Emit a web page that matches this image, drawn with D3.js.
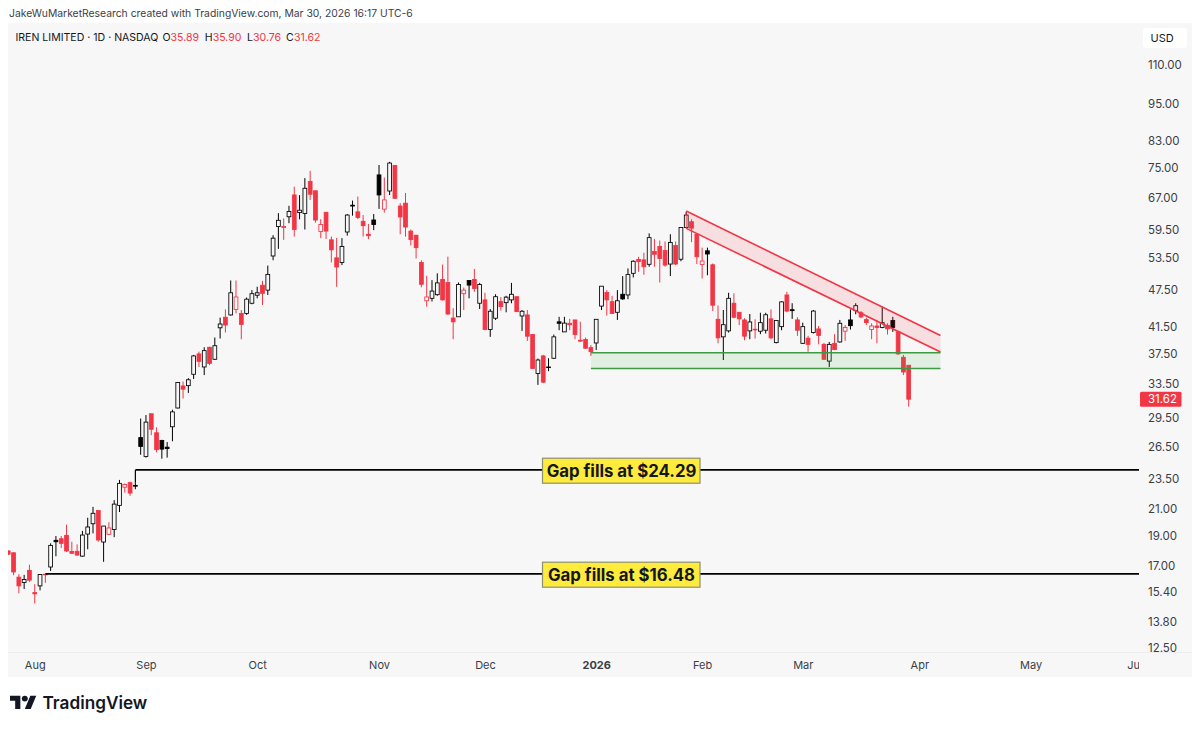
<!DOCTYPE html>
<html>

<head>
    <title>IREN LIMITED 1D</title>
    <script src="https://d3js.org/d3.v7.min.js"></script>
    <style>
        body {
            margin: 0;
            background-color: #ffffff;
        }

        svg {
            display: block;
            font-family: Inter, 'Noto Sans', sans-serif;
        }
    </style>
</head>

<body>
    <div id="chart"></div>

    <script>
        // Daily candles, first bar is 25 Jul 2025, last bar is 30 Mar 2026
        const opens = [
            17.95, 17.83, 16.28, 15.96, 16.7, 15.37, 15.76, 16.46, 16.91, 18.68,
            18.79, 19.03, 17.92, 17.93, 17.61, 19.12, 19.87, 20.88, 18.56, 19.1,
            19.45, 21.28, 22.77, 23.16, 22.93, 27.4, 25.53, 29.95, 27.9, 27.1,
            26.44, 28.53, 30.6, 33.22, 33.26, 34.7, 37.44, 35.66, 38.38, 36.7,
            41.27, 42.93, 43.3, 44.2, 43.55, 43.55, 45.23, 46.6, 48.36, 47.5,
            53.95, 60.23, 60.0, 62.45, 67.75, 63.43, 63.2, 71.25, 68.8, 59.1,
            63.5, 57.3, 53.58, 52.66, 59.0, 65.2, 63.6, 61.4, 58.5, 61.7,
            73.0, 64.25, 68.75, 75.65, 65.0, 65.7, 59.2, 58.3, 52.65, 45.65,
            46.07, 46.7, 49.43, 48.87, 42.8, 43.0, 46.87, 49.25, 49.43, 45.23,
            45.8, 41.0, 42.77, 45.5, 45.33, 45.8, 46.35, 43.13, 43.3, 40.25,
            34.8, 37.16, 35.66, 36.84, 42.2, 40.65, 41.97, 42.5, 39.4, 39.5,
            38.33, 39.0, 44.75, 47.1, 45.5, 43.73, 46.77, 46.65, 50.57, 53.25,
            53.17, 52.3, 54.85, 55.9, 55.05, 52.35, 56.1, 53.3, 60.0, 61.3,
            58.5, 52.25, 55.0, 52.2, 42.6, 39.9, 40.8, 45.23, 43.73, 42.5,
            40.8, 41.05, 40.75, 40.9, 42.67, 39.05, 41.45, 46.65, 44.15, 42.5,
            38.95, 39.7, 40.55, 41.1, 38.8, 36.45, 38.95, 39.15, 40.75, 42.5,
            44.0, 43.65, 42.55, 41.0, 41.55, 41.33, 41.65, 42.4, 40.65, 36.97,
            35.89
        ];
        const highs = [
            18.0, 17.87, 16.46, 16.42, 17.05, 15.86, 16.46, 16.48, 18.47, 18.98,
            18.98, 19.8, 18.58, 18.4, 19.35, 20.32, 21.16, 20.88, 19.7, 19.98,
            21.7, 23.4, 23.1, 23.25, 23.16, 29.42, 29.8, 29.95, 28.47, 27.18,
            26.95, 30.4, 33.65, 33.78, 34.2, 37.3, 37.76, 38.38, 38.46, 39.8,
            42.87, 44.2, 49.24, 49.24, 44.1, 46.2, 47.5, 48.1, 49.17, 52.05,
            58.3, 63.3, 62.06, 65.05, 69.85, 67.7, 72.13, 74.1, 68.8, 61.9,
            63.5, 58.0, 57.7, 57.66, 63.08, 66.33, 67.35, 62.85, 60.8, 63.08,
            75.75, 72.3, 76.65, 75.65, 65.7, 68.25, 59.55, 58.35, 53.1, 50.13,
            49.3, 50.57, 52.25, 53.8, 44.4, 48.87, 47.95, 49.25, 51.4, 48.8,
            47.03, 44.27, 46.77, 46.27, 46.5, 48.8, 46.35, 44.1, 44.1, 40.25,
            36.8, 37.3, 36.84, 40.25, 43.0, 43.0, 42.67, 42.5, 42.22, 39.8,
            38.7, 42.6, 48.2, 47.5, 46.5, 47.5, 50.05, 51.5, 53.1, 53.8,
            54.6, 58.7, 57.5, 57.15, 56.95, 58.5, 56.95, 60.0, 63.6, 61.85,
            58.5, 55.65, 55.65, 52.45, 44.85, 44.1, 47.03, 46.93, 43.73, 42.77,
            43.45, 42.6, 43.65, 43.65, 44.2, 42.4, 45.58, 47.2, 45.23, 42.93,
            42.07, 40.05, 44.1, 41.55, 39.0, 39.15, 40.3, 42.5, 41.7, 44.2,
            45.23, 43.93, 42.87, 41.97, 42.5, 44.7, 41.97, 43.0, 40.75, 37.3,
            35.9
        ];
        const lows = [
            17.68, 16.4, 15.33, 15.58, 16.0, 14.76, 15.5, 15.94, 16.66, 17.6,
            18.16, 17.88, 17.74, 17.63, 17.57, 18.07, 19.17, 18.58, 17.24, 19.05,
            18.9, 20.76, 22.32, 22.05, 22.6, 25.7, 25.43, 27.65, 25.93, 25.33,
            25.43, 27.03, 30.55, 31.7, 32.37, 34.1, 35.66, 34.6, 35.9, 36.6,
            39.66, 40.55, 43.2, 43.55, 39.55, 43.3, 45.06, 46.07, 44.95, 46.65,
            53.1, 55.4, 57.3, 60.97, 58.0, 61.85, 59.55, 66.5, 61.1, 57.65,
            57.5, 52.66, 48.1, 52.15, 58.2, 62.7, 61.9, 58.0, 57.45, 59.4,
            64.3, 63.43, 67.7, 66.9, 58.5, 58.0, 56.1, 53.45, 48.0, 44.65,
            45.53, 46.5, 45.68, 43.3, 39.55, 43.0, 44.1, 46.07, 47.2, 44.27,
            40.9, 39.9, 42.5, 44.0, 43.73, 45.23, 43.78, 40.8, 39.3, 35.45,
            33.35, 33.57, 35.1, 36.74, 40.9, 40.65, 40.9, 39.55, 39.17, 38.14,
            37.16, 38.0, 44.1, 43.2, 43.45, 42.5, 45.8, 45.92, 49.8, 50.87,
            50.3, 51.83, 51.83, 48.87, 51.83, 50.05, 52.15, 52.9, 59.85, 56.8,
            52.35, 49.6, 50.2, 43.95, 38.95, 36.6, 40.55, 42.77, 41.7, 39.4,
            39.55, 39.66, 40.3, 40.4, 39.55, 38.95, 40.9, 43.73, 42.67, 40.05,
            38.85, 37.75, 40.4, 38.8, 36.6, 35.66, 37.95, 39.05, 39.3, 41.0,
            43.4, 42.77, 41.7, 39.55, 38.95, 41.2, 40.25, 40.65, 37.3, 34.6,
            30.76
        ];
        const closes = [
            17.74, 16.6, 15.76, 16.14, 16.1, 15.3, 16.44, 16.42, 18.33, 18.58,
            18.47, 17.95, 17.8, 17.68, 19.05, 19.63, 20.66, 18.7, 19.7, 19.56,
            21.38, 23.1, 23.0, 22.28, 22.86, 26.5, 29.03, 28.27, 26.2, 26.25,
            26.3, 30.16, 33.65, 32.83, 34.0, 37.16, 36.42, 37.9, 36.14, 38.6,
            41.86, 41.7, 47.03, 46.3, 41.8, 45.92, 46.87, 47.03, 46.93, 50.37,
            57.66, 61.63, 60.23, 63.7, 59.55, 64.0, 69.45, 67.93, 61.7, 60.67,
            59.2, 55.2, 51.77, 55.9, 62.85, 65.0, 62.3, 60.4, 58.2, 60.67,
            67.75, 66.5, 76.3, 66.9, 62.4, 60.1, 57.35, 55.65, 48.55, 46.3,
            47.33, 48.8, 45.8, 43.45, 42.2, 48.5, 47.5, 48.4, 47.8, 48.5,
            41.0, 43.9, 46.35, 44.67, 46.27, 46.77, 43.83, 43.9, 40.0, 35.45,
            36.6, 33.7, 35.58, 39.9, 41.97, 42.0, 41.75, 40.25, 39.27, 38.25,
            37.76, 42.6, 48.2, 45.8, 43.55, 45.65, 45.97, 50.33, 52.9, 52.85,
            51.83, 57.77, 54.3, 53.45, 52.15, 56.75, 52.35, 60.0, 62.85, 59.85,
            53.8, 52.95, 54.35, 44.9, 39.75, 41.75, 46.07, 42.93, 42.67, 40.0,
            42.18, 40.95, 42.07, 43.33, 39.75, 42.4, 45.46, 43.93, 44.0, 40.9,
            41.45, 38.8, 43.93, 40.1, 36.7, 38.8, 38.05, 41.97, 41.33, 41.6,
            44.82, 42.97, 42.07, 41.55, 41.33, 42.07, 41.1, 41.33, 37.44, 35.0,
            31.62
        ];

        const priceTicks = [110, 95, 83, 75, 67, 59.5, 53.5, 47.5, 41.5, 37.5, 33.5, 29.5, 26.5, 23.5, 21, 19, 17, 15.4, 13.8, 12.5];
        const monthLabels = ["Aug", "Sep", "Oct", "Nov", "Dec", "2026", "Feb", "Mar", "Apr", "May", "Jun"];
        const monthBars = [6, 27, 48, 71, 91, 112, 132, 151, 173, 194, 214];

        // Drawings: bar number and price of each corner
        const gapPrices = [24.29, 16.48];
        const gapStartBars = [25, 8];
        const gapTexts = ["Gap fills at $24.29", "Gap fills at $16.48"];
        const wedgeBars = [129, 177];
        const wedgeUpper = [63.8, 40.1];
        const wedgeLower = [59.8, 37.7];
        const zoneBars = [111, 177];
        const zonePrices = [37.6, 35.45];

        const RED = "#f23645";
        const BLACK = "#000000";
        const PANE = "#f7f7f8";

        const plot = { left: 8, right: 1139, top: 23, bottom: 652.5, edge: 1192, end: 677 };

        const svg = d3.select("#chart")
            .append("svg")
            .attr("width", 1200)
            .attr("height", 729);

        svg.append("rect")
            .attr("x", plot.left)
            .attr("y", plot.top)
            .attr("width", plot.edge - plot.left)
            .attr("height", plot.end - plot.top)
            .attr("fill", PANE);

        svg.append("clipPath")
            .attr("id", "pane")
            .append("rect")
            .attr("x", plot.left)
            .attr("y", plot.top)
            .attr("width", plot.right - plot.left)
            .attr("height", plot.bottom - plot.top);

        const x = d3.scaleLinear().domain([8, 171]).range([45.33, 908.7]);
        const y = d3.scaleLog().domain([110, 12.5]).range([65, 648]);

        const bars = closes.map((c, i) => ({
            bar: i + 1,
            open: opens[i],
            high: highs[i],
            low: lows[i],
            close: c,
            // hollow candles: filled when close < open, red when below previous close
            color: i > 0 && c >= closes[i - 1] ? BLACK : RED,
            hollow: c > opens[i]
        }));

        const pane = svg.append("g").attr("clip-path", "url(#pane)");

        const candle = pane.selectAll(".candle")
            .data(bars)
            .enter()
            .append("g")
            .attr("class", "candle");

        candle.append("line")
            .attr("x1", d => x(d.bar))
            .attr("x2", d => x(d.bar))
            .attr("y1", d => y(d.high))
            .attr("y2", d => y(d.low))
            .attr("stroke", d => d.color)
            .attr("stroke-width", 1);

        candle.append("rect")
            .attr("x", d => x(d.bar) - 1.9)
            .attr("width", 3.8)
            .attr("y", d => y(Math.max(d.open, d.close)))
            .attr("height", d => Math.max(0.6, Math.abs(y(d.open) - y(d.close))))
            .attr("fill", d => d.hollow ? PANE : d.color)
            .attr("stroke", d => d.color)
            .attr("stroke-width", 0.85);

        // Falling wedge
        const wedge = [
            [wedgeBars[0], wedgeUpper[0]],
            [wedgeBars[1], wedgeUpper[1]],
            [wedgeBars[1], wedgeLower[1]],
            [wedgeBars[0], wedgeLower[0]]
        ].map(d => [x(d[0]), y(d[1])]);

        pane.append("polygon")
            .attr("points", wedge.join(" "))
            .attr("fill", RED)
            .attr("fill-opacity", 0.13);

        [[wedge[0], wedge[1]], [wedge[3], wedge[2]], [wedge[0], wedge[3]]].forEach((seg, i) => {
            pane.append("line")
                .attr("x1", seg[0][0]).attr("y1", seg[0][1])
                .attr("x2", seg[1][0]).attr("y2", seg[1][1])
                .attr("stroke", RED)
                .attr("stroke-width", i < 2 ? 1.6 : 0.8);
        });

        // Support zone
        pane.append("rect")
            .attr("x", x(zoneBars[0]))
            .attr("width", x(zoneBars[1]) - x(zoneBars[0]))
            .attr("y", y(zonePrices[0]))
            .attr("height", y(zonePrices[1]) - y(zonePrices[0]))
            .attr("fill", "#4caf50")
            .attr("fill-opacity", 0.13);

        zonePrices.forEach(p => {
            pane.append("line")
                .attr("x1", x(zoneBars[0])).attr("x2", x(zoneBars[1]))
                .attr("y1", y(p)).attr("y2", y(p))
                .attr("stroke", "#3d9a42")
                .attr("stroke-width", 1.5);
        });

        // Gap levels
        gapPrices.forEach((p, i) => {
            const start = gapStartBars[i];
            pane.append("line")
                .attr("x1", x(start)).attr("x2", plot.right)
                .attr("y1", y(p)).attr("y2", y(p))
                .attr("stroke", BLACK)
                .attr("stroke-width", 1.8);

            pane.append("line")
                .attr("x1", x(start)).attr("x2", x(start))
                .attr("y1", y(p)).attr("y2", y(highs[start - 1]))
                .attr("stroke", BLACK)
                .attr("stroke-width", 1.2);

            pane.append("rect")
                .attr("x", 542.5)
                .attr("y", y(p) - 11.7)
                .attr("width", 157.5)
                .attr("height", 25)
                .attr("fill", "#ffeb3b")
                .attr("stroke", "#8d9070")
                .attr("stroke-width", 1.2);

            pane.append("text")
                .attr("x", 621.5)
                .attr("y", y(p) + 6.9)
                .attr("text-anchor", "middle")
                .attr("font-size", 16.8)
                .attr("font-weight", 700)
                .attr("fill", "#131722")
                .text(gapTexts[i]);
        });

        // Price axis
        const yAxis = d3.axisRight(y)
            .tickValues(priceTicks)
            .tickSize(0)
            .tickPadding(9)
            .tickFormat(d3.format(".2f"));

        const yG = svg.append("g")
            .attr("transform", "translate(" + plot.right + ",0)")
            .call(yAxis);
        yG.select(".domain").remove();
        yG.selectAll("text")
            .attr("font-family", "Inter")
            .attr("font-size", 11.5)
            .attr("fill", "#3b3e47");

        svg.append("rect")
            .attr("x", 1140)
            .attr("y", y(closes[closes.length - 1]) - 7.5)
            .attr("width", 41.5)
            .attr("height", 15)
            .attr("rx", 1.5)
            .attr("fill", RED);

        svg.append("text")
            .attr("x", 1148)
            .attr("y", y(closes[closes.length - 1]) + 4.2)
            .attr("font-size", 11.5)
            .attr("fill", "#ffffff")
            .text(d3.format(".2f")(closes[closes.length - 1]));

        svg.append("rect")
            .attr("x", 1143)
            .attr("y", 28)
            .attr("width", 44)
            .attr("height", 20)
            .attr("rx", 3)
            .attr("fill", "#ffffff");

        svg.append("text")
            .attr("x", 1150.5)
            .attr("y", 42)
            .attr("font-size", 11)
            .attr("fill", "#131722")
            .text("USD");

        // Time axis
        svg.append("line")
            .attr("x1", plot.left).attr("x2", plot.edge)
            .attr("y1", plot.bottom).attr("y2", plot.bottom)
            .attr("stroke", "#eeeef1")
            .attr("stroke-width", 1.2);

        svg.append("clipPath")
            .attr("id", "timeaxis")
            .append("rect")
            .attr("x", plot.left)
            .attr("y", plot.bottom)
            .attr("width", plot.right - plot.left)
            .attr("height", plot.end - plot.bottom);

        const xAxis = d3.axisBottom(x)
            .tickValues(monthBars)
            .tickSize(0)
            .tickPadding(0)
            .tickFormat((d, i) => monthLabels[i]);

        const xG = svg.append("g")
            .attr("clip-path", "url(#timeaxis)")
            .append("g")
            .attr("transform", "translate(0,661)")
            .call(xAxis);
        xG.select(".domain").remove();
        xG.selectAll("text")
            .attr("font-family", "Inter")
            .attr("font-size", 11)
            .attr("fill", "#3b3e47")
            .attr("font-weight", d => d === 112 ? 700 : 400);

        // Header and legend
        svg.append("text")
            .attr("x", 9)
            .attr("y", 17.4)
            .attr("font-size", 10.35)
            .attr("fill", "#3b3e47")
            .text("JakeWuMarketResearch created with TradingView.com, Mar 30, 2026 16:17 UTC-6");

        svg.append("text")
            .attr("x", 15.5)
            .attr("y", 40.7)
            .attr("font-size", 10.55)
            .attr("fill", "#131722")
            .text("IREN LIMITED · 1D · NASDAQ");

        const legendKeys = ["O", "H", "L", "C"];
        const legendKeyX = [162.5, 204.7, 247, 286];
        const legendValues = [35.89, 35.90, 30.76, 31.62];
        const legendValueX = [170.5, 212.7, 253, 294];

        legendKeys.forEach((k, i) => {
            svg.append("text")
                .attr("x", legendKeyX[i])
                .attr("y", 40.7)
                .attr("font-size", 10.55)
                .attr("fill", "#131722")
                .text(k);
            svg.append("text")
                .attr("x", legendValueX[i])
                .attr("y", 40.7)
                .attr("font-size", 10.55)
                .attr("fill", RED)
                .text(d3.format(".2f")(legendValues[i]));
        });

        // Logo
        const logo = svg.append("g")
            .attr("transform", "translate(10,692.7) scale(0.74)")
            .attr("fill", "#131722");
        logo.append("path").attr("d", "M14 22H7V11H0V4h14v18zM28 22h-8l7.5-18h8L28 22z");
        logo.append("circle").attr("cx", 20).attr("cy", 8).attr("r", 4);

        svg.append("text")
            .attr("x", 42.5)
            .attr("y", 709)
            .attr("font-size", 17.2)
            .attr("font-weight", 600)
            .attr("fill", "#131722")
            .text("TradingView");
    </script>
</body>

</html>
